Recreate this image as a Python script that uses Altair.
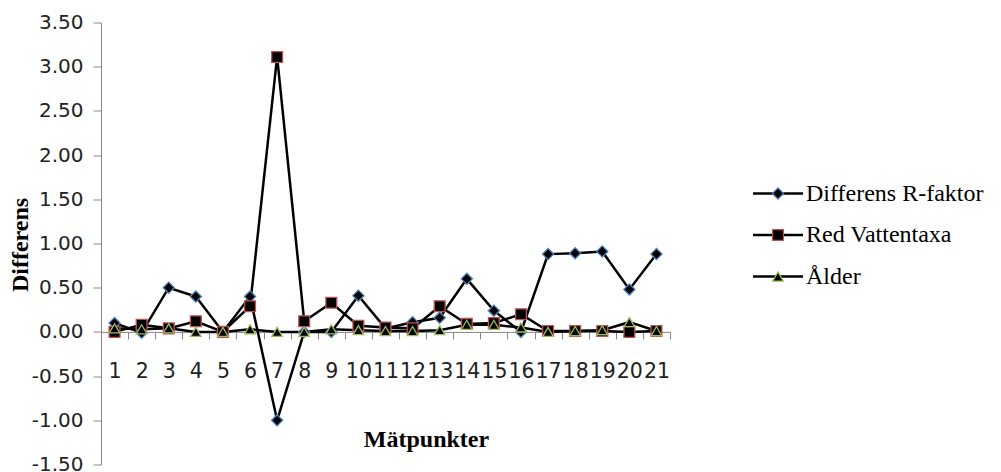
import altair as alt
import pandas as pd

# Measuring points 1..21
points = list(range(1, 22))
series_names = ["Differens R-faktor", "Red Vattentaxa", "Ålder"]

r_faktor = [0.10, -0.01, 0.50, 0.40, 0.00, 0.40, -1.00, 0.00, 0.00, 0.41, 0.04,
            0.11, 0.16, 0.60, 0.24, 0.00, 0.88, 0.89, 0.91, 0.48, 0.88]
red_vattentaxa = [0.00, 0.08, 0.04, 0.12, 0.00, 0.29, 3.11, 0.12, 0.33, 0.07, 0.05,
                  0.04, 0.29, 0.09, 0.10, 0.20, 0.01, 0.01, 0.01, 0.00, 0.01]
alder = [0.04, 0.03, 0.04, 0.00, 0.00, 0.03, 0.00, 0.00, 0.03, 0.02, 0.01,
         0.01, 0.02, 0.08, 0.08, 0.05, 0.00, 0.01, 0.02, 0.11, 0.01]

y_ticks = [-1.5, -1.0, -0.5, 0.0, 0.5, 1.0, 1.5, 2.0, 2.5, 3.0, 3.5]

marker_shapes = ["diamond", "square", "triangle-up"]
marker_edges = ["#4F81BD", "#C0504D", "#9BBB59"]
marker_sizes = [125, 110, 175]

rows = []
for k, (name, vals) in enumerate(zip(series_names, [r_faktor, red_vattentaxa, alder])):
    for p, v in zip(points, vals):
        rows.append({"punkt": str(p), "idx": p, "serie": name, "varde": v, "nr": k})
df = pd.DataFrame(rows)
legend_df = pd.DataFrame({"serie": series_names, "nr": [0, 1, 2]})

W, H = 569, 442
Y_MIN, Y_MAX = -1.5, 3.5
zero_from_bottom = H * (0 - Y_MIN) / (Y_MAX - Y_MIN)

x_enc = alt.X(
    "punkt:O",
    sort=[str(p) for p in points],
    bandPosition=0.5,
    scale=alt.Scale(type="band", paddingInner=0, paddingOuter=0),
    axis=alt.Axis(
        title="Mätpunkter",
        offset=-zero_from_bottom,
        domainColor="#868686",
        domainWidth=1,
        tickColor="#868686",
        tickSize=7,
        tickBand="extent",
        labelAngle=0,
        labelFont="DejaVu Sans",
        labelFontSize=20.5,
        labelColor="#222222",
        labelPadding=23,
        labelOverlap=False,
        labelBound=False,
        titleFont="Liberation Serif",
        titleFontSize=24,
        titleFontWeight="bold",
        titleColor="#000000",
        titleX=325,
        titleY=108,
        titleAlign="center",
        titleBaseline="middle",
        titleAngle=0,
    ),
)

y_enc = alt.Y(
    "varde:Q",
    scale=alt.Scale(domain=[Y_MIN, Y_MAX], nice=False, zero=False),
    axis=alt.Axis(
        title="Differens",
        values=y_ticks,
        labelExpr="(datum.value < 0 ? '-' : '') + format(abs(datum.value), '.2f')",
        grid=False,
        domainColor="#868686",
        tickColor="#868686",
        tickSize=8,
        labelFont="DejaVu Sans",
        labelFontSize=20,
        labelColor="#222222",
        labelPadding=10,
        titleFont="Liberation Serif",
        titleFontSize=24,
        titleFontWeight="bold",
        titleColor="#000000",
        titleX=-81,
        titleY=222,
        titleAlign="center",
        titleBaseline="middle",
        titleAngle=-90,
    ),
)

shape_scale = alt.Scale(domain=series_names, range=marker_shapes)
edge_scale = alt.Scale(domain=series_names, range=marker_edges)
size_scale = alt.Scale(domain=series_names, range=marker_sizes)

lines = alt.Chart(df).mark_line(color="black", strokeWidth=2.5).encode(
    x=x_enc, y=y_enc, detail="serie:N", order=alt.Order("idx:Q")
)

markers = alt.Chart(df).mark_point(opacity=1, strokeWidth=1.3).encode(
    x=x_enc,
    y=y_enc,
    shape=alt.Shape("serie:N", scale=shape_scale, legend=None),
    stroke=alt.Stroke("serie:N", scale=edge_scale, legend=None),
    size=alt.Size("serie:N", scale=size_scale, legend=None),
    fill=alt.value("black"),
    order=alt.Order("nr:Q"),
)

plot = alt.layer(lines, markers)

# Legend: short line, marker and label for each series, to the right of the plot
leg_y = alt.Y("nr:O", scale=alt.Scale(type="point", domain=[0, 1, 2],
                                       range=[171, 254], padding=0), axis=None)

leg_lines = alt.Chart(legend_df).mark_rule(color="black", strokeWidth=2.5).encode(
    x=alt.value(652), x2=alt.value(702), y=leg_y
)
leg_marks = alt.Chart(legend_df).mark_point(opacity=1, strokeWidth=1.3).encode(
    x=alt.value(677),
    y=leg_y,
    shape=alt.Shape("serie:N", scale=shape_scale, legend=None),
    stroke=alt.Stroke("serie:N", scale=edge_scale, legend=None),
    size=alt.Size("serie:N", scale=size_scale, legend=None),
    fill=alt.value("black"),
)
leg_text = alt.Chart(legend_df).mark_text(
    align="left", baseline="middle", font="Liberation Serif", fontSize=24,
    color="black"
).encode(x=alt.value(705), y=leg_y, text="serie:N")

legend = alt.layer(leg_lines, leg_marks, leg_text)

chart = alt.layer(plot, legend).resolve_scale(
    y="independent", shape="shared", stroke="shared", size="shared"
).properties(
    width=W,
    height=H,
    autosize=alt.AutoSizeParams(type="none"),
    padding={"left": 101, "top": 22.5, "right": 1001 - 101 - W, "bottom": 472 - 22.5 - H},
    background="white",
).configure_view(stroke=None)

chart.save("out.html", embed_options={"renderer": "svg", "actions": False})
